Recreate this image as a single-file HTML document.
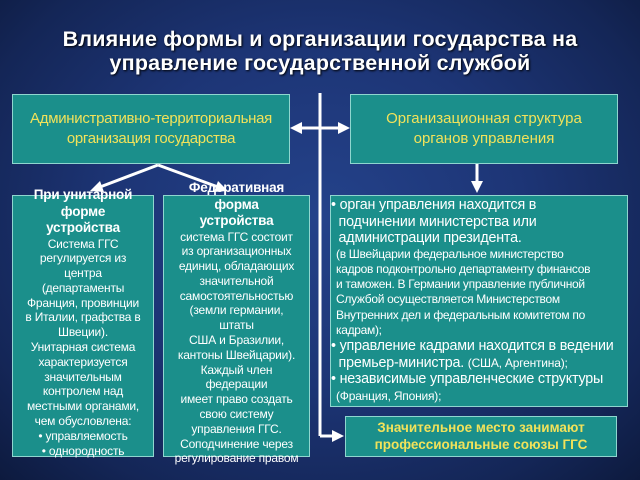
<!DOCTYPE html>
<html><head><meta charset="utf-8"><style>
html,body{margin:0;padding:0}
body{width:640px;height:480px;position:relative;overflow:hidden;
background:radial-gradient(ellipse at 50% 45%,#24428a 0%,#1d3576 45%,#142657 80%,#0d1a3e 100%);
font-family:"Liberation Sans","Noto Sans CJK SC",sans-serif}
.box{position:absolute;background:#1b8f8b;border:1.5px solid #8fd6cf;box-sizing:border-box}
.t{position:absolute;color:#fff;text-align:center;white-space:nowrap}
.y{color:#f2e25a}
.title{position:absolute;left:0;width:640px;top:27px;text-align:center;color:#fff;font-weight:bold;font-size:21.5px;line-height:24px;letter-spacing:0.2px;text-shadow:1px 1px 2px #000}
.sm{font-size:12px;line-height:14.8px;letter-spacing:-0.2px}
</style></head><body>
<div class="title">Влияние формы и организации государства на<br>управление государственной службой</div>

<div class="box" style="left:12px;top:94px;width:278px;height:70px"></div>
<div class="t y" style="left:12px;top:109px;width:278px;font-size:15px;line-height:20px;letter-spacing:-0.3px">Административно-территориальная<br>организация государства</div>

<div class="box" style="left:350px;top:94px;width:268px;height:70px"></div>
<div class="t y" style="left:350px;top:109px;width:268px;font-size:15px;line-height:20px">Организационная структура<br>органов управления</div>

<div class="box" style="left:12px;top:195px;width:142px;height:262px"></div>
<div class="box" style="left:163px;top:195px;width:147px;height:262px"></div>
<div class="box" style="left:330px;top:195px;width:298px;height:212px"></div>
<div class="box" style="left:345px;top:416px;width:272px;height:41px"></div>

<svg style="position:absolute;left:0;top:0" width="640" height="480">
<g stroke="#fff" stroke-width="3" fill="#fff">
<line x1="320" y1="93" x2="320" y2="436"/>
<line x1="320" y1="436" x2="334" y2="436"/>
<polygon points="344,436 332,430 332,442" stroke="none"/>
<line x1="300" y1="128" x2="340" y2="128"/>
<polygon points="290,128 302,122 302,134" stroke="none"/>
<polygon points="350,128 338,122 338,134" stroke="none"/>
<line x1="477" y1="164" x2="477" y2="182"/>
<polygon points="477,193 471,181 483,181" stroke="none"/>
<line x1="158" y1="165" x2="100" y2="187"/>
<polygon points="90,191 100,181 104,192" stroke="none"/>
<line x1="158" y1="165" x2="218" y2="187"/>
<polygon points="228,191 214,192 218,181" stroke="none"/>
</g></svg>

<div class="t sm" style="left:10px;top:187px;width:146px"><b style="font-size:13.5px;line-height:16.5px">При унитарной<br>форме<br>устройства</b><br>Система ГГС<br>регулируется из<br>центра<br>(департаменты<br>Франция, провинции<br>в Италии, графства в<br>Швеции).<br>Унитарная система<br>характеризуется<br>значительным<br>контролем над<br>местными органами,<br>чем обусловлена:<br>• управляемость<br>• однородность</div>

<div class="t sm" style="left:161px;top:180px;width:151px"><b style="font-size:13.5px;line-height:16.5px">Федеративная<br>форма<br>устройства</b><br>система ГГС состоит<br>из организационных<br>единиц, обладающих<br>значительной<br>самостоятельностью<br>(земли германии,<br>штаты<br>США и Бразилии,<br>кантоны Швейцарии).<br>Каждый член<br>федерации<br>имеет право создать<br>свою систему<br>управления ГГС.<br>Соподчинение через<br>регулирование правом</div>

<div class="t" style="left:331px;top:197px;width:296px;text-align:left;font-size:14.3px;line-height:16.5px;letter-spacing:-0.2px">• орган управления находится в<br>&nbsp;&nbsp;подчинении министерства или<br>&nbsp;&nbsp;администрации президента.<br><span style="font-size:12px;line-height:15.3px;display:block;padding-left:5px;letter-spacing:-0.3px">(в Швейцарии федеральное министерство<br>кадров подконтрольно департаменту финансов<br>и таможен. В Германии управление публичной<br>Службой осуществляется Министерством<br>Внутренних дел и федеральным комитетом по<br>кадрам);</span>• управление кадрами находится в ведении<br>&nbsp;&nbsp;премьер-министра. <span style="font-size:12px">(США, Аргентина);</span><br>• независимые управленческие структуры<br><span style="font-size:12px;padding-left:5px">(Франция, Япония);</span></div>

<div class="t y" style="left:345px;top:419px;width:272px;font-size:13.5px;line-height:17px;font-weight:bold">Значительное место занимают<br>профессиональные союзы ГГС</div>
</body></html>
